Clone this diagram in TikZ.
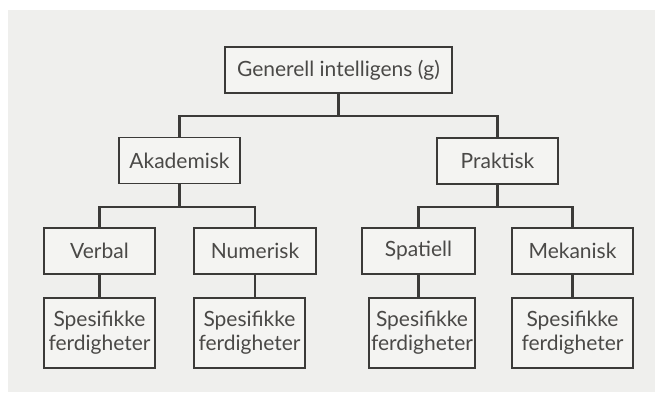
\documentclass[tikz,border=0pt]{standalone}
\usepackage{fontspec}
\setmainfont{Lato}
\usepackage{tikz}
\usetikzlibrary{calc}
\definecolor{paper}{HTML}{EFEFED}
\definecolor{boxfill}{HTML}{F4F4F2}
\definecolor{ink}{HTML}{3B3A38}
\definecolor{txt}{HTML}{4A4947}

\begin{document}
\begin{tikzpicture}[x=1pt,y=-1pt,
  box/.style={draw=ink,line width=1.3pt,fill=boxfill,text=txt,
    font=\fontsize{21}{24}\selectfont,minimum height=46pt,inner sep=2pt},
  skill/.style={box,minimum height=70pt,align=center},
  conn/.style={draw=ink,line width=2.4pt}]
\fill[white] (0,0) rectangle (655,392);
\fill[paper] (8,10) rectangle (655,392);
\useasboundingbox (0,0) rectangle (655,392);
% levels
\node[box,minimum width=227pt] (g) at (338.5,70) {Generell intelligens (g)};
\node[box,minimum width=121pt] (aka) at (179.5,160.5) {Akademisk};
\node[box,minimum width=121pt] (prak) at (497.5,161) {Praktisk};
\node[box,minimum width=111pt] (verbal) at (99.5,251) {Verbal};
\node[box,minimum width=122pt] (num) at (255,251) {Numerisk};
\node[box,minimum width=113pt] (spat) at (418.5,251) {Spatiell};
\node[box,minimum width=121pt] (mek) at (572.5,251) {Mekanisk};
\node[skill,minimum width=111pt] (sverbal) at (99.5,333) {Spesifikke\\ferdigheter};
\node[skill,minimum width=111pt] (snum) at (249.5,333) {Spesifikke\\ferdigheter};
\node[skill,minimum width=104pt] (sspat) at (422,333) {Spesifikke\\ferdigheter};
\node[skill,minimum width=121pt] (smek) at (572.5,333) {Spesifikke\\ferdigheter};
% joints
\coordinate (gj) at (338.5,116);
\coordinate (akaj) at (179.5,207);
\coordinate (prakj) at (497.5,207);
% lines
\draw[conn] (g.south) -- (gj);
\draw[conn] (aka.north) |- (gj) -| (prak.north);
\draw[conn] (aka.south) -- (akaj);
\draw[conn] (verbal.north) |- (akaj) -| (num.north);
\draw[conn] (prak.south) -- (prakj);
\draw[conn] (spat.north) |- (prakj) -| (mek.north);
\draw[conn] (verbal.south) -- (verbal.south |- sverbal.north);
\draw[conn] (num.south) -- (num.south |- snum.north);
\draw[conn] (spat.south) -- (spat.south |- sspat.north);
\draw[conn] (mek.south) -- (mek.south |- smek.north);
\end{tikzpicture}
\end{document}
